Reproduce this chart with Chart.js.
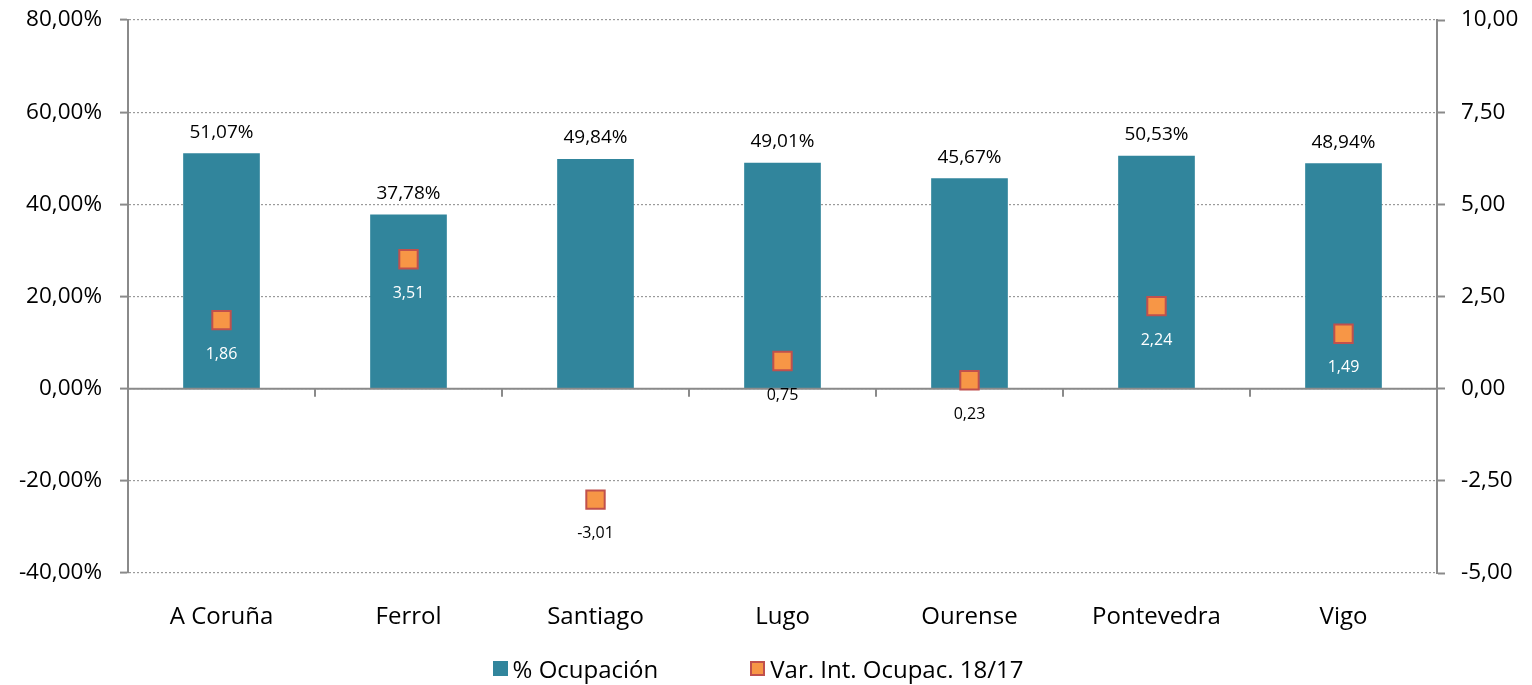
<!DOCTYPE html>
<html>
<head>
<meta charset="utf-8">
<script src="https://cdn.jsdelivr.net/npm/chart.js@4/dist/chart.umd.min.js"></script>
<style>
  body { margin: 0; background: #fff; }
  #wrap { position: relative; width: 1532px; height: 685px; }
  #legend { position: absolute; left: 0; width: 1532px; top: 652px; display: flex; justify-content: center; gap: 92px;
            font-family: 'Open Sans', sans-serif; font-size: 24px; color: #000; margin-left: -8px; }
  #legend .item { display: flex; align-items: center; }
  #legend .box { width: 15px; height: 15px; margin-right: 5px; box-sizing: border-box; }
</style>
</head>
<body>
<div id="wrap">
  <canvas id="chart" width="1532" height="685"></canvas>
  <div id="legend"></div>
</div>
<script>
// datos
const categorias = ['A Coruña', 'Ferrol', 'Santiago', 'Lugo', 'Ourense', 'Pontevedra', 'Vigo'];
const ocupacion = [51.07, 37.78, 49.84, 49.01, 45.67, 50.53, 48.94];
const variacion = [1.86, 3.51, -3.01, 0.75, 0.23, 2.24, 1.49];
const ticksIzq = [-40, -20, 0, 20, 40, 60, 80];
const ticksDer = [-5, -2.5, 0, 2.5, 5, 7.5, 10];

const fuente = "'Open Sans', sans-serif";
const gris = '#8a8a8a';

function coma(v) {
    return v.toFixed(2).replace('.', ',');
}

// ancho fijo de los ejes verticales, sin relleno extra arriba/abajo
function ajustarEje(ancho) {
    return s => {
        s.width = ancho;
        s.paddingTop = 0;
        s.paddingBottom = 0;
    };
}

// línea del cero y marcas del eje x
const lineaCero = {
    id: 'lineaCero',
    afterDatasetDraw(chart, args) {
        if (args.index !== 0) return;
        const ctx = chart.ctx;
        const x = chart.scales.x;
        const y0 = chart.scales.y.getPixelForValue(0);
        const area = chart.chartArea;
        ctx.save();
        ctx.strokeStyle = gris;
        ctx.lineWidth = 2;
        ctx.beginPath();
        ctx.moveTo(area.left, y0);
        ctx.lineTo(area.right, y0);
        for (let i = 0; i < categorias.length - 1; i++) {
            const px = Math.round((x.getPixelForValue(i) + x.getPixelForValue(i + 1)) / 2);
            ctx.moveTo(px, y0);
            ctx.lineTo(px, y0 + 8);
        }
        ctx.stroke();
        ctx.restore();
    }
};

// etiquetas de datos
const etiquetas = {
    id: 'etiquetas',
    afterDatasetsDraw(chart) {
        const ctx = chart.ctx;
        const y0 = chart.scales.y.getPixelForValue(0);
        ctx.save();
        ctx.textAlign = 'center';
        ctx.textBaseline = 'middle';
        ctx.font = '19px ' + fuente;
        ctx.fillStyle = '#000';
        chart.getDatasetMeta(0).data.forEach((bar, i) => {
            ctx.fillText(coma(ocupacion[i]) + '%', bar.x, bar.y - 21);
        });
        ctx.font = '16px ' + fuente;
        chart.getDatasetMeta(1).data.forEach((pt, i) => {
            const ly = pt.y + 34;
            ctx.fillStyle = (variacion[i] > 0 && ly < y0 - 8) ? '#fff' : '#000';
            ctx.fillText(coma(variacion[i]), pt.x, ly);
        });
        ctx.restore();
    }
};

const chart = new Chart(document.getElementById('chart'), {
    data: {
        labels: categorias,
        datasets: [
            {
                type: 'bar',
                label: '% Ocupación',
                data: ocupacion,
                backgroundColor: '#31859C',
                borderWidth: 0,
                yAxisID: 'y',
                order: 1,
                categoryPercentage: 1,
                barPercentage: 0.41
            },
            {
                type: 'line',
                label: 'Var. Int. Ocupac. 18/17',
                data: variacion,
                showLine: false,
                yAxisID: 'y1',
                order: 0,
                pointStyle: 'rect',
                pointRadius: 13,
                pointHoverRadius: 13,
                backgroundColor: '#F79646',
                borderColor: '#C0504D',
                borderWidth: 2
            }
        ]
    },
    options: {
        responsive: false,
        animation: false,
        layout: { padding: { top: 20 } },
        plugins: {
            legend: { display: false },
            tooltip: { enabled: false }
        },
        scales: {
            x: {
                grid: { display: false },
                border: { display: false },
                ticks: { color: '#000', font: { family: fuente, size: 24 }, padding: 22, maxRotation: 0 },
                afterFit: s => { s.height = 112; }
            },
            y: {
                position: 'left',
                min: -40,
                max: 80,
                afterBuildTicks: s => { s.ticks = ticksIzq.map(v => ({ value: v })); },
                ticks: {
                    color: '#000',
                    font: { family: fuente, size: 22.5 },
                    padding: 18,
                    callback: v => coma(v) + '%'
                },
                grid: { color: '#9a9a9a', lineWidth: 1.2, tickColor: gris, tickLength: 8, tickWidth: 2 },
                border: { color: gris, width: 2, dash: [2, 2] },
                afterFit: ajustarEje(128)
            },
            y1: {
                position: 'right',
                min: -5,
                max: 10,
                afterBuildTicks: s => { s.ticks = ticksDer.map(v => ({ value: v })); },
                ticks: {
                    color: '#000',
                    font: { family: fuente, size: 22.5 },
                    padding: 16,
                    callback: v => coma(v)
                },
                grid: { drawOnChartArea: false, tickColor: gris, tickLength: 8, tickWidth: 2 },
                border: { color: gris, width: 2 },
                afterFit: ajustarEje(95)
            }
        }
    },
    plugins: [lineaCero, etiquetas]
});

// leyenda
const leyenda = document.getElementById('legend');
chart.data.datasets.forEach(ds => {
    const item = document.createElement('div');
    item.className = 'item';
    const box = document.createElement('span');
    box.className = 'box';
    box.style.background = ds.backgroundColor;
    if (ds.type === 'line') box.style.border = '2px solid ' + ds.borderColor;
    const txt = document.createElement('span');
    txt.textContent = ds.label;
    item.appendChild(box);
    item.appendChild(txt);
    leyenda.appendChild(item);
});
</script>
</body>
</html>
